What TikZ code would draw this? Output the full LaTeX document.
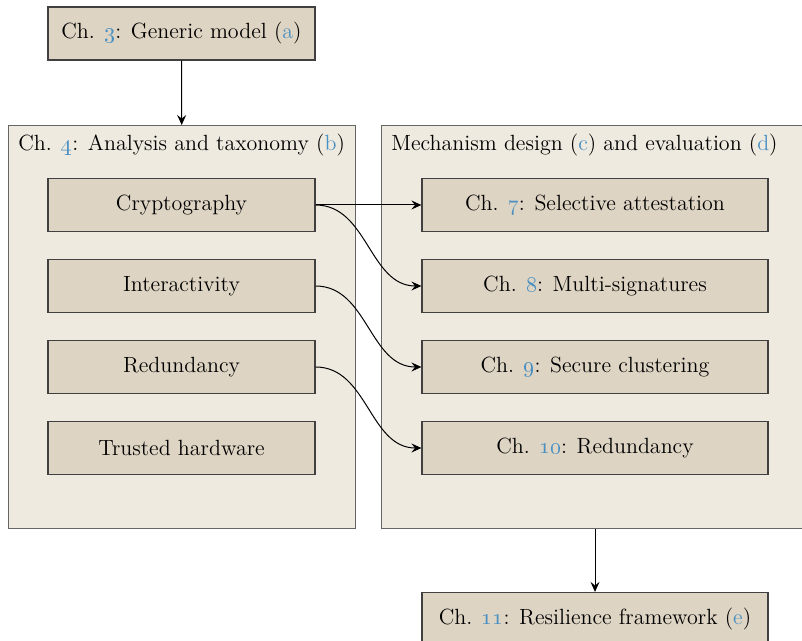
\documentclass[tikz,border=0pt]{standalone}
\usetikzlibrary{arrows.meta}
\definecolor{panelfill}{RGB}{239,234,224}
\definecolor{boxfill}{RGB}{222,212,195}
\definecolor{refblue}{RGB}{74,144,194}
\newcommand{\refnum}[1]{\textcolor{refblue}{\oldstylenums{#1}}}
\newcommand{\reflet}[1]{\textcolor{refblue}{#1}}
\begin{document}
\begin{tikzpicture}[x=0.5pt,y=-0.5pt,font=\fontsize{11}{13}\selectfont,
  panel/.style={draw=black!60, fill=panelfill, line width=0.6pt, inner sep=0pt, anchor=north west},
  chapbox/.style={draw=black!75, fill=boxfill, line width=0.6pt, inner sep=0pt, minimum height=26.5pt},
  link/.style={-{Stealth[length=5pt,width=4.5pt,inset=1.8pt]}, line width=0.5pt}]
\useasboundingbox (0,0) rectangle (802,641);
\pgfmathsetmacro\rowstep{81};
% the two panels
\node[panel, minimum width=173.5pt, minimum height=201.5pt] (analysis) at (8,125) {};
\node[panel, minimum width=211pt, minimum height=201.5pt] (design) at (381,125) {};
\node[anchor=west, inner sep=0pt] (analysis-title) at ([shift={(10,20)}]analysis.north west) {Ch. \refnum{4}: Analysis and taxonomy (\reflet{b})};
\node[anchor=west, inner sep=0pt] (design-title) at ([shift={(10,20)}]design.north west) {Mechanism design (\reflet{c}) and evaluation (\reflet{d})};
% chapter boxes
\node[chapbox, minimum width=133.5pt] (model) at (181.5,33.5) {Ch. \refnum{3}: Generic model (\reflet{a})};
\foreach \name/\txt [count=\i] in {crypto/Cryptography, inter/Interactivity, redund/Redundancy, hardware/Trusted hardware}
  \node[chapbox, minimum width=133.5pt] (\name) at (181.5,124+\rowstep*\i) {\txt};
\foreach \name/\txt [count=\i] in {attest/{Ch. \refnum{7}: Selective attestation}, multisig/{Ch. \refnum{8}: Multi-signatures}, cluster/{Ch. \refnum{9}: Secure clustering}, redundancy/{Ch. \refnum{10}: Redundancy}}
  \node[chapbox, minimum width=173pt] (\name) at (595,124+\rowstep*\i) {\txt};
\node[chapbox, minimum width=173pt] (framework) at (595,619) {Ch. \refnum{11}: Resilience framework (\reflet{e})};
% links
\draw[link] (model) -- (analysis);
\draw[link] (design.south -| framework) -- (framework);
\draw[link] (crypto.east) -- (attest.west);
\draw[link] (crypto.east) to[out=0,in=180] (multisig.west);
\draw[link] (inter.east) to[out=0,in=180] (cluster.west);
\draw[link] (redund.east) to[out=0,in=180] (redundancy.west);
\end{tikzpicture}
\end{document}
